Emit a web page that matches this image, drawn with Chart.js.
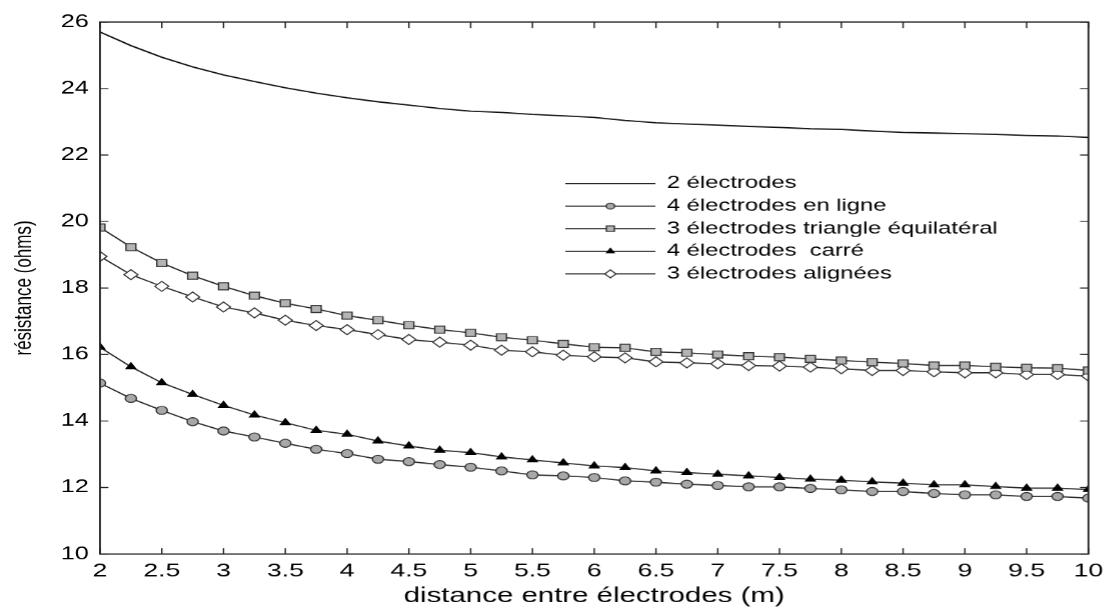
<!DOCTYPE html>
<html>
<head>
<meta charset="utf-8">
<script src="https://cdn.jsdelivr.net/npm/chart.js@4.4.0/dist/chart.umd.min.js"></script>
<style>
  html, body { margin: 0; padding: 0; background: #fff; overflow: hidden; }
  #wrap { width: 1105px; height: 610px; overflow: hidden; }
  #c { transform-origin: 0 0; transform: scaleX(1.4); display: block; }
</style>
</head>
<body>
<div id="wrap"><canvas id="c" width="789" height="610"></canvas></div>
<script>
// ---- data ----
const distances = [2,2.25,2.5,2.75,3,3.25,3.5,3.75,4,4.25,4.5,4.75,5,5.25,5.5,5.75,6,6.25,6.5,6.75,7,7.25,7.5,7.75,8,8.25,8.5,8.75,9,9.25,9.5,9.75,10];

const deuxElectrodes = [25.70,25.29,24.94,24.65,24.41,24.21,24.02,23.86,23.72,23.60,23.50,23.40,23.32,23.28,23.22,23.18,23.13,23.04,22.97,22.93,22.90,22.86,22.83,22.79,22.77,22.72,22.68,22.66,22.64,22.62,22.59,22.57,22.53];

const quatreEnLigne = [15.14,14.68,14.32,13.98,13.70,13.52,13.33,13.15,13.02,12.85,12.78,12.69,12.61,12.50,12.38,12.35,12.30,12.20,12.16,12.10,12.06,12.02,12.02,11.97,11.93,11.88,11.88,11.82,11.78,11.78,11.73,11.73,11.68];

const troisTriangle = [19.82,19.23,18.75,18.37,18.05,17.77,17.54,17.37,17.17,17.03,16.88,16.75,16.65,16.52,16.43,16.32,16.22,16.20,16.08,16.05,16.00,15.95,15.92,15.87,15.82,15.77,15.73,15.67,15.67,15.63,15.60,15.59,15.52];

const quatreCarre = [16.22,15.63,15.15,14.80,14.47,14.18,13.95,13.72,13.60,13.40,13.25,13.12,13.05,12.92,12.83,12.74,12.65,12.60,12.50,12.45,12.40,12.35,12.30,12.25,12.22,12.17,12.13,12.08,12.08,12.03,11.98,11.98,11.94];

const troisAlignees = [18.95,18.40,18.05,17.73,17.43,17.25,17.03,16.87,16.75,16.60,16.45,16.37,16.28,16.13,16.08,15.98,15.93,15.90,15.78,15.75,15.72,15.67,15.65,15.62,15.57,15.52,15.52,15.48,15.45,15.45,15.40,15.40,15.35];

const seriesLabels = ['2 électrodes','4 électrodes en ligne','3 électrodes triangle équilatéral','4 électrodes  carré','3 électrodes alignées'];
const xTitle = 'distance entre électrodes (m)';
const yTitle = 'résistance (ohms)';
const xMin = 2, xMax = 10, xStep = 0.5;
const yMin = 10, yMax = 26, yStep = 2;

// ---- build ----
const toPts = arr => arr.map((v, i) => ({ x: distances[i], y: v }));
const FONT = "'Liberation Sans', Arial, sans-serif";
const lineCol = '#2a2a2a';

const datasets = [
  { label: seriesLabels[0], data: toPts(deuxElectrodes), borderColor: '#111', borderWidth: 1.3, pointRadius: 0, pointStyle: false },
  { label: seriesLabels[1], data: toPts(quatreEnLigne), borderColor: lineCol, borderWidth: 1.2, pointStyle: 'circle', pointRadius: 4, pointBackgroundColor: '#a8a8a8', pointBorderColor: '#333', pointBorderWidth: 1 },
  { label: seriesLabels[2], data: toPts(troisTriangle), borderColor: lineCol, borderWidth: 1.2, pointStyle: 'rect', pointRadius: 5, pointBackgroundColor: '#b4b4b4', pointBorderColor: '#333', pointBorderWidth: 1 },
  { label: seriesLabels[3], data: toPts(quatreCarre), borderColor: lineCol, borderWidth: 1.2, pointStyle: 'triangle', pointRadius: 4, pointBackgroundColor: '#000', pointBorderColor: '#000', pointBorderWidth: 1 },
  { label: seriesLabels[4], data: toPts(troisAlignees), borderColor: lineCol, borderWidth: 1.2, pointStyle: 'rectRot', pointRadius: 5, pointBackgroundColor: '#fff', pointBorderColor: '#333', pointBorderWidth: 1 }
];

const framePlugin = {
  id: 'frame',
  afterDatasetsDraw(chart) {
    const { ctx, chartArea: a, scales } = chart;
    ctx.save();
    ctx.strokeStyle = '#222';
    ctx.lineWidth = 1.3;
    ctx.strokeRect(a.left, a.top, a.right - a.left, a.bottom - a.top);
    ctx.lineWidth = 1;
    const tl = 6;
    ctx.beginPath();
    scales.x.ticks.forEach(t => {
      const px = scales.x.getPixelForValue(t.value);
      ctx.moveTo(px, a.bottom); ctx.lineTo(px, a.bottom - tl);
      ctx.moveTo(px, a.top); ctx.lineTo(px, a.top + tl);
    });
    scales.y.ticks.forEach(t => {
      const py = scales.y.getPixelForValue(t.value);
      ctx.moveTo(a.left, py); ctx.lineTo(a.left + tl, py);
      ctx.moveTo(a.right, py); ctx.lineTo(a.right - tl, py);
    });
    ctx.stroke();
    ctx.restore();
  }
};

const legendPlugin = {
  id: 'innerLegend',
  afterDraw(chart, args, opts) {
    const { ctx } = chart;
    ctx.save();
    ctx.font = opts.font;
    ctx.textBaseline = 'middle';
    ctx.fillStyle = '#000';
    chart.data.datasets.forEach((ds, i) => {
      const y = opts.y0 + i * opts.dy;
      ctx.strokeStyle = ds.borderColor;
      ctx.lineWidth = ds.borderWidth;
      ctx.beginPath();
      ctx.moveTo(opts.x0, y); ctx.lineTo(opts.x1, y);
      ctx.stroke();
      if (ds.pointStyle) {
        const mx = (opts.x0 + opts.x1) / 2;
        ctx.fillStyle = ds.pointBackgroundColor;
        ctx.strokeStyle = ds.pointBorderColor;
        ctx.lineWidth = ds.pointBorderWidth;
        Chart.helpers.drawPoint(ctx, { pointStyle: ds.pointStyle, radius: ds.pointRadius - 1, rotation: 0, borderWidth: ds.pointBorderWidth }, mx, y);
      }
      ctx.fillStyle = '#000';
      ctx.fillText(ds.label, opts.tx, y);
    });
    ctx.restore();
  }
};

new Chart(document.getElementById('c'), {
  type: 'line',
  data: { datasets },
  plugins: [framePlugin, legendPlugin],
  options: {
    responsive: false,
    animation: false,
    devicePixelRatio: 1.4,
    layout: { padding: { top: 22, right: 12, left: 0, bottom: 0 } },
    elements: { line: { tension: 0 } },
    plugins: {
      legend: { display: false },
      tooltip: { enabled: false },
      innerLegend: { x0: 403.6, x1: 467.9, tx: 476, y0: 183.5, dy: 22.6, font: "17px " + FONT }
    },
    scales: {
      x: {
        type: 'linear', min: xMin, max: xMax,
        afterFit: s => { s.height = 56; s.paddingLeft = 0; s.paddingRight = 0; },
        ticks: { stepSize: xStep, color: '#000', font: { size: 19, family: FONT }, padding: 6, maxRotation: 0, autoSkip: false,
                 callback: v => String(Math.round(v * 100) / 100) },
        grid: { display: false, drawTicks: false },
        border: { display: false },
        title: { display: true, text: xTitle, color: '#000', font: { size: 21, family: FONT }, padding: { top: 0, bottom: 1 } }
      },
      y: {
        type: 'linear', min: yMin, max: yMax,
        afterFit: s => { s.width = 71.4; s.paddingTop = 0; s.paddingBottom = 0; },
        ticks: { stepSize: yStep, color: '#000', font: { size: 18, family: FONT }, padding: 8 },
        grid: { display: false, drawTicks: false },
        border: { display: false },
        title: { display: true, text: yTitle, color: '#000', font: { size: 17, family: FONT }, padding: { top: 7, bottom: 0 } }
      }
    }
  }
});
</script>
</body>
</html>
